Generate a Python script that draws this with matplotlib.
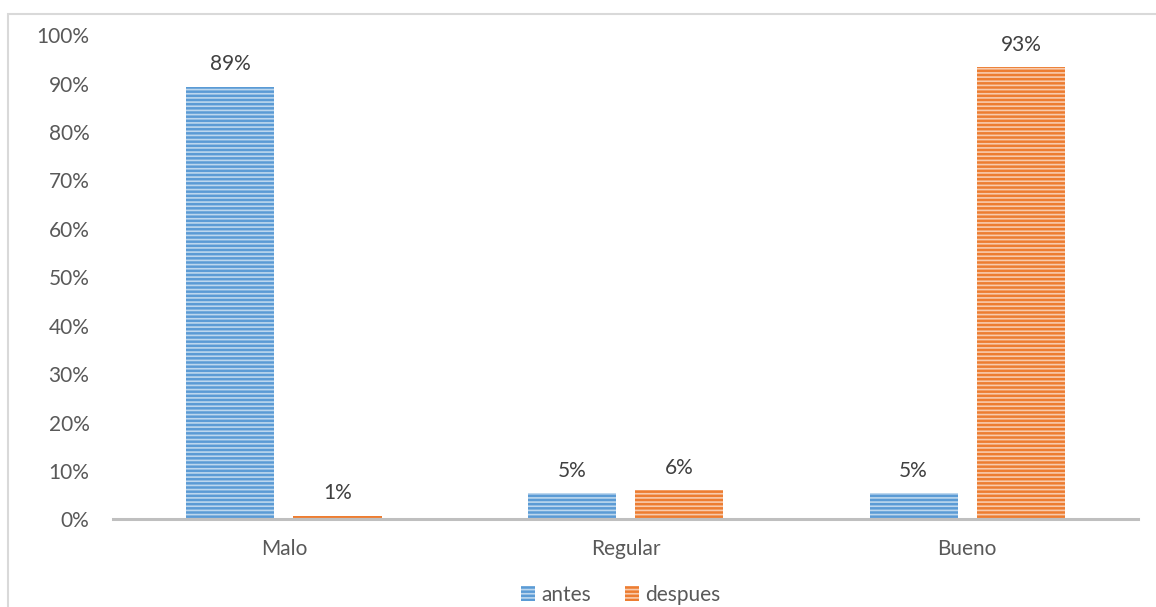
import numpy as np
import matplotlib.pyplot as plt
from matplotlib.patches import Rectangle, Patch

# data
categories = ["Malo", "Regular", "Bueno"]
antes = [89.3, 5.4, 5.4]
despues = [0.8, 6.0, 93.4]
antes_labels = ["89%", "5%", "5%"]
despues_labels = ["1%", "6%", "93%"]

plt.rcParams['font.family'] = ['Lato', 'DejaVu Sans']
plt.rcParams['hatch.linewidth'] = 1.2

fig = plt.figure(figsize=(11.56, 6.07), dpi=100)
ax = fig.add_axes([0.0978, 0.1442, 0.8867, 0.798])

# light frame around the chart (runs off the right/bottom like the screenshot)
fig.patches.append(Rectangle((8 / 1156, -0.1), 1.2, (607 - 14) / 607 + 0.1,
                             transform=fig.transFigure, fill=False,
                             edgecolor='#D9D9D9', lw=1.5, zorder=0))

x = np.arange(len(categories))
w = 0.258
off = 0.157
fs = 15

b1 = ax.bar(x - off, antes, w, color='#5B9BD5', hatch='----', edgecolor='#BDD7EE',
            linewidth=0, label='antes')
b2 = ax.bar(x + off, despues, w, color='#ED7D31', hatch='----', edgecolor='#F8CBAD',
            linewidth=0, label='despues')

for i in range(len(categories)):
    ax.annotate(antes_labels[i], (x[i] - off, antes[i]), xytext=(0, 9),
                textcoords='offset points', ha='center', va='bottom',
                fontsize=fs, color='#404040')
    ax.annotate(despues_labels[i], (x[i] + off, despues[i]), xytext=(0, 9),
                textcoords='offset points', ha='center', va='bottom',
                fontsize=fs, color='#404040')

ax.set_xlim(-0.5, 2.5)
ax.set_ylim(0, 100)
ax.set_yticks(np.arange(0, 101, 10))
ax.set_yticklabels([f"{v}%" for v in range(0, 101, 10)])
ax.set_xticks(x)
ax.set_xticklabels(categories)
ax.tick_params(axis='y', length=0, pad=17, labelsize=fs, labelcolor='#595959')
ax.tick_params(axis='x', length=0, pad=14, labelsize=fs, labelcolor='#595959')
for s in ['top', 'right', 'left']:
    ax.spines[s].set_visible(False)
ax.spines['bottom'].set_color('#BFBFBF')
ax.spines['bottom'].set_linewidth(2.2)

handles = [Patch(facecolor='#5B9BD5', hatch='----', edgecolor='#BDD7EE', linewidth=0),
           Patch(facecolor='#ED7D31', hatch='----', edgecolor='#F8CBAD', linewidth=0)]
fig.legend(handles, ['antes', 'despues'], loc='center', bbox_to_anchor=(0.537, 0.02),
           ncol=2, frameon=False, fontsize=fs, handlelength=0.7, handleheight=0.7,
           handletextpad=0.3, columnspacing=1.6, labelcolor='#595959')

fig.savefig('out.png', dpi=100)
